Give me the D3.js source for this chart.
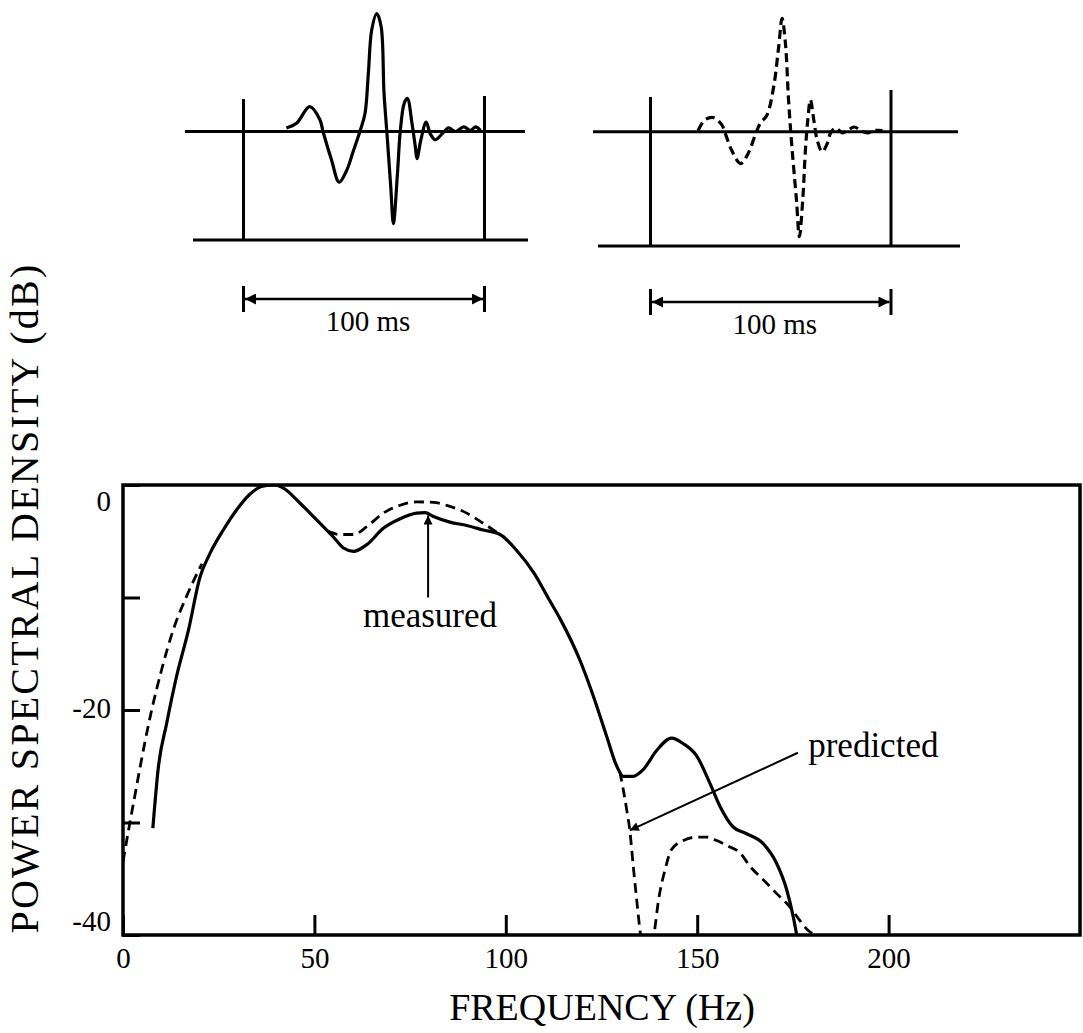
<!DOCTYPE html>
<html>
<head>
<meta charset="utf-8">
<script src="https://cdn.jsdelivr.net/npm/d3@7"></script>
<style>
    body { margin: 0; background: #fff; }
    svg { display: block; }
    text { font-family: "Liberation Serif", "Times New Roman", serif; fill: #000; }
</style>
</head>
<body>
<svg id="chart" width="1083" height="1033"></svg>
<script>
// --- waveforms (time in ms, amplitude normalised to the measured peak) ---
const measuredWave = [
    [17.8, 0.03], [22.0, 0.07], [27.5, 0.21], [31.7, 0.10], [33.0, 0], [36.5, -0.24],
    [39.7, -0.43], [42.8, -0.33], [45.5, -0.17], [48.3, 0], [50.4, 0.15], [51.8, 0.49],
    [53.2, 0.86], [55.3, 1.0], [57.1, 0.89], [58.3, 0.33], [59.5, -0.01], [61.1, -0.47],
    [62.2, -0.78], [63.9, -0.35], [65.0, -0.01], [66.7, 0.24], [68.0, 0.28], [69.9, 0.07],
    [71.3, -0.13], [72.0, -0.23], [73.6, -0.07], [75.8, 0.08], [77.5, -0.02], [79.6, -0.07],
    [82.4, -0.02], [85.1, 0.03], [87.9, 0], [91.4, 0.04], [94.2, 0.01], [96.3, 0.04], [98.3, 0.01]
];
const predictedWave = [
    [19.8, 0.01], [22.6, 0.10], [26.1, 0.12], [29.6, 0.06], [31.0, -0.01], [33.8, -0.16],
    [37.5, -0.27], [40.7, -0.18], [43.5, -0.03], [45.6, 0.07], [48.4, 0.14], [51.2, 0.38],
    [53.3, 0.72], [54.7, 0.96], [56.1, 0.75], [57.4, 0.27], [58.8, -0.13], [60.7, -0.58],
    [61.9, -0.89], [63.3, -0.58], [64.4, -0.16], [65.4, 0.10], [66.5, 0.27], [67.9, 0.10],
    [69.3, -0.07], [71.4, -0.17], [73.5, -0.10], [74.9, -0.01], [77.0, 0.03], [79.8, -0.01],
    [81.9, 0.01], [84.7, 0.04], [87.4, 0.01], [90.2, -0.01], [93.0, 0.01], [96.5, 0.01]
];
const windowLabel = "100 ms";

// --- spectra (frequency Hz, dB) ---
const measuredPSD = [
    [7.8, -30.5], [9.2, -25.2], [11.4, -21.2], [14.0, -17.0], [17.1, -12.9], [20.1, -8.2],
    [22.7, -6.1], [26.2, -4.0], [29.7, -2.2], [33.2, -0.8], [36.5, -0.1], [39.5, 0],
    [42.0, -0.3], [46.2, -1.6], [50.6, -3.1], [54.9, -4.6], [57.6, -5.6], [60.2, -5.9],
    [63.7, -5.3], [68.0, -3.85], [72.4, -3.0], [76.7, -2.5], [78.9, -2.45], [81.1, -2.8],
    [85.4, -3.3], [89.8, -3.6], [94.1, -4.0], [98.5, -4.4], [102.8, -5.8], [107.5, -7.9],
    [111.0, -10.0], [114.2, -11.9], [119.4, -15.6], [122.9, -18.8], [126.4, -22.4],
    [129.0, -25.0], [130.7, -25.9], [133.3, -25.9], [135.9, -25.3], [139.4, -23.6],
    [143.3, -22.5], [146.4, -23.0], [149.9, -24.1], [153.3, -26.5], [156.0, -28.6],
    [159.4, -30.4], [162.9, -31.0], [167.3, -31.9], [170.7, -33.6], [173.4, -36.0],
    [175.1, -38.4], [176.0, -40]
];
// null = where the predicted curve lies on top of the measured one
const predictedPSD = [
    [0, -33.5], [1.8, -30.0], [3.0, -27.8], [4.4, -25.2], [7.1, -20.6], [10.1, -16.4],
    [13.1, -12.9], [16.6, -9.9], [20.6, -7.0],
    null,
    [53.5, -4.1], [56.7, -4.4], [60.2, -4.4], [63.7, -3.7], [68.0, -2.5], [72.4, -1.8],
    [76.7, -1.5], [81.1, -1.55], [85.4, -1.9], [89.8, -2.5], [94.1, -3.4], [98.5, -4.4],
    null,
    [129.8, -25.5], [130.7, -27.1], [131.6, -28.9], [132.4, -30.7], [133.3, -33.9],
    [134.2, -36.9], [135.2, -40], [137.0, -43], [138.7, -40], [139.9, -36.9], [141.6, -34.2],
    [143.3, -32.4], [146.4, -31.6], [149.9, -31.3], [152.5, -31.3], [155.1, -31.6],
    [158.1, -32.1], [161.2, -32.7], [163.8, -33.9], [167.3, -35.1], [170.7, -36.3],
    [174.2, -37.5], [176.8, -38.7], [179.0, -39.6], [181.0, -40]
];

const xTicks = [0, 50, 100, 150, 200];
const yTicks = [0, -10, -20, -30, -40];
const yLabelled = [0, -20, -40];
const xTitle = "FREQUENCY (Hz)";
const yTitle = "POWER SPECTRAL DENSITY (dB)";

// annotations: [arrow tail, arrow tip, label anchor] in data units
const measuredNote = {text: "measured", tail: [79.7, -10.0], tip: [79.7, -2.7], label: [80.2, -12.6]};
const predictedNote = {text: "predicted", tail: [176.3, -23.8], tip: [132.4, -30.7], label: [179.0, -24.2]};

const svg = d3.select("#chart");

const defs = svg.append("defs");
defs.append("marker")
    .attr("id", "head")
    .attr("viewBox", "0 0 10 10")
    .attr("refX", 10).attr("refY", 5)
    .attr("markerUnits", "userSpaceOnUse")
    .attr("markerWidth", 15).attr("markerHeight", 11)
    .attr("orient", "auto-start-reverse")
    .append("path")
    .attr("d", "M0,0 L10,5 L0,10 Z")
    .attr("fill", "#000");
defs.append("marker")
    .attr("id", "headSmall")
    .attr("viewBox", "0 0 10 10")
    .attr("refX", 10).attr("refY", 5)
    .attr("markerUnits", "userSpaceOnUse")
    .attr("markerWidth", 14).attr("markerHeight", 9)
    .attr("orient", "auto")
    .append("path")
    .attr("d", "M0,0 L10,5 L0,10 Z")
    .attr("fill", "#000");

// ---------- top: the two time windows ----------
const panels = [
    {data: measuredWave, dashed: false, t0: 243.5, t100: 484.5, zeroY: 131.5, unit: 118,
        zero: [185, 525], base: [193, 528], baseY: 240, tops: [99, 96], dimY: 299},
    {data: predictedWave, dashed: true, t0: 650.5, t100: 891, zeroY: 131.7, unit: 118,
        zero: [593, 958], base: [598, 960], baseY: 246, tops: [97, 90], dimY: 302}
];

panels.forEach(p => {
    let g = svg.append("g");
    let tx = d3.scaleLinear().domain([0, 100]).range([p.t0, p.t100]);
    let ay = d3.scaleLinear().domain([0, 1]).range([p.zeroY, p.zeroY - p.unit]);

    g.append("line")
        .attr("x1", p.zero[0]).attr("x2", p.zero[1])
        .attr("y1", ay(0)).attr("y2", ay(0))
        .attr("stroke", "#000").attr("stroke-width", 3);
    g.append("line")
        .attr("x1", p.base[0]).attr("x2", p.base[1])
        .attr("y1", p.baseY).attr("y2", p.baseY)
        .attr("stroke", "#000").attr("stroke-width", 3);
    [0, 100].forEach((t, i) => {
        g.append("line")
            .attr("x1", tx(t)).attr("x2", tx(t))
            .attr("y1", p.tops[i]).attr("y2", p.baseY)
            .attr("stroke", "#000").attr("stroke-width", 3);
    });

    let line = d3.line()
        .x(d => tx(d[0]))
        .y(d => ay(d[1]))
        .curve(d3.curveCatmullRom.alpha(0.5));
    g.append("path")
        .datum(p.data)
        .attr("d", line)
        .attr("fill", "none")
        .attr("stroke", "#000")
        .attr("stroke-width", 3.2)
        .attr("stroke-linejoin", "round")
        .attr("stroke-dasharray", p.dashed ? "9,5" : null);

    // 100 ms dimension arrow
    let dim = svg.append("g");
    dim.append("line")
        .attr("x1", tx(0) + 1.5).attr("x2", tx(100) - 1.5)
        .attr("y1", p.dimY).attr("y2", p.dimY)
        .attr("stroke", "#000").attr("stroke-width", 2.5)
        .attr("marker-start", "url(#head)")
        .attr("marker-end", "url(#head)");
    [0, 100].forEach(t => {
        dim.append("line")
            .attr("x1", tx(t)).attr("x2", tx(t))
            .attr("y1", p.dimY - 13).attr("y2", p.dimY + 13)
            .attr("stroke", "#000").attr("stroke-width", 3);
    });
    dim.append("text")
        .attr("x", tx(50) + 4)
        .attr("y", p.dimY + 32)
        .attr("text-anchor", "middle")
        .style("font-size", "29px")
        .text(windowLabel);
});

// ---------- bottom: power spectral density ----------
const x = d3.scaleLinear().domain([0, 250]).range([123, 1080]);
const y = d3.scaleLinear().domain([-40, 0]).range([935, 485]);

defs.append("clipPath").attr("id", "plotClip")
    .append("rect")
    .attr("x", x(0)).attr("y", y(0))
    .attr("width", x(250) - x(0)).attr("height", y(-40) - y(0));

svg.append("g")
    .attr("transform", `translate(0,${y(-40)})`)
    .call(d3.axisBottom(x).tickValues(xTicks).tickSizeInner(-20).tickSizeOuter(0).tickPadding(12))
    .call(g => g.select(".domain").remove())
    .call(g => g.selectAll(".tick line").attr("stroke-width", 3))
    .call(g => g.selectAll(".tick text").style("font-size", "29px")
        .style("font-family", "Liberation Serif"));

svg.append("g")
    .attr("transform", `translate(${x(0)},0)`)
    .call(d3.axisLeft(y).tickValues(yTicks).tickSizeInner(-17).tickSizeOuter(0).tickPadding(12)
        .tickFormat(d => yLabelled.includes(d) ? d : ""))
    .call(g => g.select(".domain").remove())
    .call(g => g.selectAll(".tick line").attr("stroke-width", 3))
    .call(g => g.selectAll(".tick text").style("font-size", "29px")
        .style("font-family", "Liberation Serif")
        .attr("dy", d => d === 0 ? "0.87em" : d === -40 ? "-0.16em" : "0.27em"));

svg.append("rect")
    .attr("x", x(0)).attr("y", y(0))
    .attr("width", x(250) - x(0)).attr("height", y(-40) - y(0))
    .attr("fill", "none")
    .attr("stroke", "#000")
    .attr("stroke-width", 3.5);

const curves = svg.append("g").attr("clip-path", "url(#plotClip)");
const psdLine = d3.line()
    .defined(d => d !== null)
    .x(d => x(d[0]))
    .y(d => y(d[1]))
    .curve(d3.curveMonotoneX);

curves.append("path")
    .datum(predictedPSD)
    .attr("d", psdLine)
    .attr("fill", "none")
    .attr("stroke", "#000")
    .attr("stroke-width", 2.8)
    .attr("stroke-dasharray", "10,6");

curves.append("path")
    .datum(measuredPSD)
    .attr("d", psdLine)
    .attr("fill", "none")
    .attr("stroke", "#000")
    .attr("stroke-width", 3.2)
    .attr("stroke-linejoin", "round");

[measuredNote, predictedNote].forEach((n, i) => {
    svg.append("line")
        .attr("x1", x(n.tail[0])).attr("y1", y(n.tail[1]))
        .attr("x2", x(n.tip[0])).attr("y2", y(n.tip[1]))
        .attr("stroke", "#000").attr("stroke-width", 2)
        .attr("marker-end", "url(#headSmall)");
    svg.append("text")
        .attr("x", x(n.label[0]))
        .attr("y", y(n.label[1]))
        .attr("text-anchor", i === 0 ? "middle" : "start")
        .style("font-size", "35px")
        .text(n.text);
});

svg.append("text")
    .attr("x", 602)
    .attr("y", 1020)
    .attr("text-anchor", "middle")
    .style("font-size", "38px")
    .text(xTitle);

svg.append("text")
    .attr("transform", "translate(38,598) rotate(-90)")
    .attr("text-anchor", "middle")
    .style("font-size", "40px")
    .style("letter-spacing", "2.2px")
    .text(yTitle);
</script>
</body>
</html>
